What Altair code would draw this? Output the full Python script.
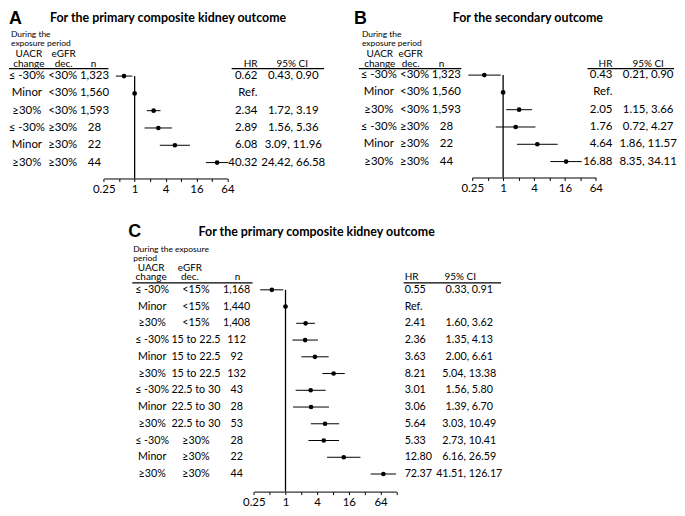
import altair as alt
import pandas as pd

# ---------------- data ----------------
uacr_ab = ["≤ -30%", "Minor", "≥30%", "≤ -30%", "Minor", "≥30%"]
egfr_ab = ["<30%", "<30%", "<30%", "≥30%", "≥30%", "≥30%"]
n_ab = ["1,323", "1,560", "1,593", "28", "22", "44"]

hr_a = [0.62, 1.0, 2.34, 2.89, 6.08, 40.32]
lo_a = [0.43, None, 1.72, 1.56, 3.09, 24.42]
hi_a = [0.90, None, 3.19, 5.36, 11.96, 66.58]

hr_b = [0.43, 1.0, 2.05, 1.76, 4.64, 16.88]
lo_b = [0.21, None, 1.15, 0.72, 1.86, 8.35]
hi_b = [0.90, None, 3.66, 4.27, 11.57, 34.11]

uacr_c = ["≤ -30%", "Minor", "≥30%"] * 4
egfr_c = ["<15%"] * 3 + ["15 to 22.5"] * 3 + ["22.5 to 30"] * 3 + ["≥30%"] * 3
n_c = ["1,168", "1,440", "1,408", "112", "92", "132", "43", "28", "53", "28", "22", "44"]
hr_c = [0.55, 1.0, 2.41, 2.36, 3.63, 8.21, 3.01, 3.06, 5.64, 5.33, 12.80, 72.37]
lo_c = [0.33, None, 1.60, 1.35, 2.00, 5.04, 1.56, 1.39, 3.03, 2.73, 6.16, 41.51]
hi_c = [0.91, None, 3.62, 4.13, 6.61, 13.38, 5.80, 6.70, 10.49, 10.41, 26.59, 126.17]

tick_values = [0.25, 0.5, 1, 2, 4, 8, 16, 32, 64, 128]
label_values = [0.25, 1, 4, 16, 64]

title_ac = "For the primary composite kidney outcome"
title_b = "For the secondary outcome"

# ---------------- style ----------------
FONT = "Lato"
LETTER_FONT = "Liberation Sans"
ONE = pd.DataFrame({"k": [0]})
TOTAL_W, TOTAL_H = 669, 485
HEAD_SIZE = 10


def panel(uacr, egfr, n, hr, lo, hi, L):
    ox, oy = L["ox"], L["oy"]
    rs = L["row_size"]

    def txt(x, y, s, size=HEAD_SIZE, align="center", weight="normal", font=FONT,
            baseline="middle"):
        return alt.Chart(ONE).mark_text(
            align=align, baseline=baseline, fontSize=size, fontWeight=weight,
            font=font, color="black"
        ).encode(x=alt.value(x + ox), y=alt.value(y + oy), text=alt.value(s))

    def hline(x1, x2, y):
        return alt.Chart(ONE).mark_rule(color="black", strokeWidth=1.2).encode(
            x=alt.value(x1 + ox), x2=alt.value(x2 + ox), y=alt.value(y + oy))

    df = pd.DataFrame({"row": list(range(len(hr))), "uacr": uacr, "egfr": egfr,
                       "n": n, "hr": hr, "lo": lo, "hi": hi})
    df["hr_txt"] = ["Ref." if l is None else f"{h:.2f}" for h, l in zip(hr, lo)]
    df["ci_txt"] = ["" if l is None else f"{l:.2f}, {h:.2f}" for l, h in zip(lo, hi)]

    ticks = [t for t in tick_values if t <= L["xmax"]]
    lab = ",".join(str(v) for v in label_values)
    xscale = alt.Scale(type="log", base=2, domain=[0.25, L["xmax"]],
                       range=[L["x0"] + ox, L["x1"] + ox], nice=False)
    xaxis = alt.Axis(values=ticks, format="~g", title=None, grid=False, orient="bottom",
                     offset=L["H"] + oy - TOTAL_H,
                     labelExpr=f"indexof([{lab}], datum.value) >= 0 ? datum.label : ''",
                     tickSize=3, labelPadding=2, domainColor="black", tickColor="black",
                     labelColor="black", labelFont=FONT, labelFontSize=11.5,
                     domainWidth=1, tickWidth=1, labelFlush=False, labelOverlap=False)
    yscale = alt.Scale(domain=[0, len(hr) - 1], range=[L["y0"] + oy, L["y1"] + oy],
                       nice=False, zero=False)
    yenc = alt.Y("row:Q", scale=yscale, axis=None)

    base = alt.Chart(df)
    layers = []
    # reference line at HR = 1
    layers.append(alt.Chart(ONE).mark_rule(color="black", strokeWidth=1.3).encode(
        x=alt.X(datum=1, type="quantitative", scale=xscale, axis=xaxis),
        y=alt.Y(datum=0, type="quantitative", scale=yscale, axis=None),
        y2=alt.value(L["H"] + oy)))
    # CIs
    layers.append(base.transform_filter("isValid(datum.lo)").mark_rule(
        color="black", strokeWidth=1).encode(
        x=alt.X("lo:Q", scale=xscale, axis=xaxis), x2="hi:Q", y=yenc))
    # points
    layers.append(base.mark_circle(size=22, color="black", opacity=1).encode(
        x=alt.X("hr:Q", scale=xscale, axis=xaxis), y=yenc))
    # text columns
    for field, key, align in [("uacr", "c_uacr", "center"), ("egfr", "c_egfr", "center"),
                              ("n", "c_n", "center"), ("hr_txt", "c_hr", L["hr_align"]),
                              ("ci_txt", "c_ci", "center")]:
        layers.append(base.mark_text(align=align, baseline="middle", font=FONT,
                                     fontSize=rs, color="black").encode(
            x=alt.value(L[key] + ox), y=yenc, text=f"{field}:N"))

    # headers / titles
    layers += [
        txt(L["letter"][0], L["letter"][1], L["letter"][2], size=18, align="left",
            weight="bold", font=LETTER_FONT, baseline="alphabetic"),
        txt(L["title"][0], L["title"][1], L["title"][2], size=12.5, weight="bold"),
        txt(L["dur"][0], L["dur"][1], L["dur"][2], size=8.5, align="left"),
        txt(L["dur"][0], L["dur"][1] + 9, L["dur"][3], size=8.5, align="left"),
        txt(L["h_uacr"], L["hy"] - 9.5, "UACR"),
        txt(L["h_uacr"], L["hy"], "change"),
        txt(L["h_egfr"], L["hy"] - 9.5, "eGFR"),
        txt(L["h_egfr"], L["hy"], "dec."),
        txt(L["h_n"], L["hy"], "n"),
        txt(L["h_hr"], L["hy"], "HR", align=L["hr_align"]),
        txt(L["h_ci"], L["hy"], "95% CI"),
        hline(L["ul_left"][0], L["ul_left"][1], L["uly"]),
        hline(L["ul_right"][0], L["ul_right"][1], L["uly"]),
    ]
    return alt.layer(*layers)


LA = dict(ox=0, oy=0, H=170, xmax=64, x0=95.3, x1=219.7, y0=67, y1=154, row_size=11.5,
          c_uacr=18, c_egfr=54, c_n=86, c_hr=250, c_ci=286, hr_align="right",
          letter=(0, 15, "A"), title=(160, 9, title_ac),
          dur=(2, 25, "During the", "exposure period"),
          h_uacr=20, h_egfr=55, h_n=85, h_hr=250, h_ci=285, hy=54.5,
          ul_left=(0, 100), ul_right=(224, 317), uly=59.5)

LB = dict(ox=337, oy=0, H=169, xmax=64, x0=129, x1=253.3, y0=66, y1=153, row_size=11.5,
          c_uacr=35, c_egfr=71, c_n=103, c_hr=270, c_ci=306, hr_align="right",
          letter=(10, 15, "B"), title=(185, 9, title_b),
          dur=(18, 25, "During the", "exposure period"),
          h_uacr=36, h_egfr=67, h_n=98, h_hr=270, h_ci=306, hy=54.5,
          ul_left=(15, 118), ul_right=(245, 332), uly=59.5)

LC = dict(ox=0, oy=170, H=315, xmax=128, x0=246.3, x1=389.7, y0=112, y1=297.3,
          row_size=10.8,
          c_uacr=144, c_egfr=188, c_n=229, c_hr=398, c_ci=463, hr_align="left",
          letter=(120, 59, "C"), title=(309.5, 54, title_ac),
          dur=(125, 71, "During the exposure", "period"),
          h_uacr=143, h_egfr=182, h_n=230, h_hr=398, h_ci=454, hy=99.5,
          ul_left=(124, 245), ul_right=(397, 495), uly=105)

A = panel(uacr_ab, egfr_ab, n_ab, hr_a, lo_a, hi_a, LA)
B = panel(uacr_ab, egfr_ab, n_ab, hr_b, lo_b, hi_b, LB)
C = panel(uacr_c, egfr_c, n_c, hr_c, lo_c, hi_c, LC)

chart = alt.layer(A, B, C).resolve_scale(
    x="independent", y="independent"
).resolve_axis(
    x="independent", y="independent"
).properties(
    width=TOTAL_W, height=TOTAL_H, padding=0
).configure_view(stroke=None)

chart.save("out.html", embed_options={"renderer": "svg", "actions": False})
